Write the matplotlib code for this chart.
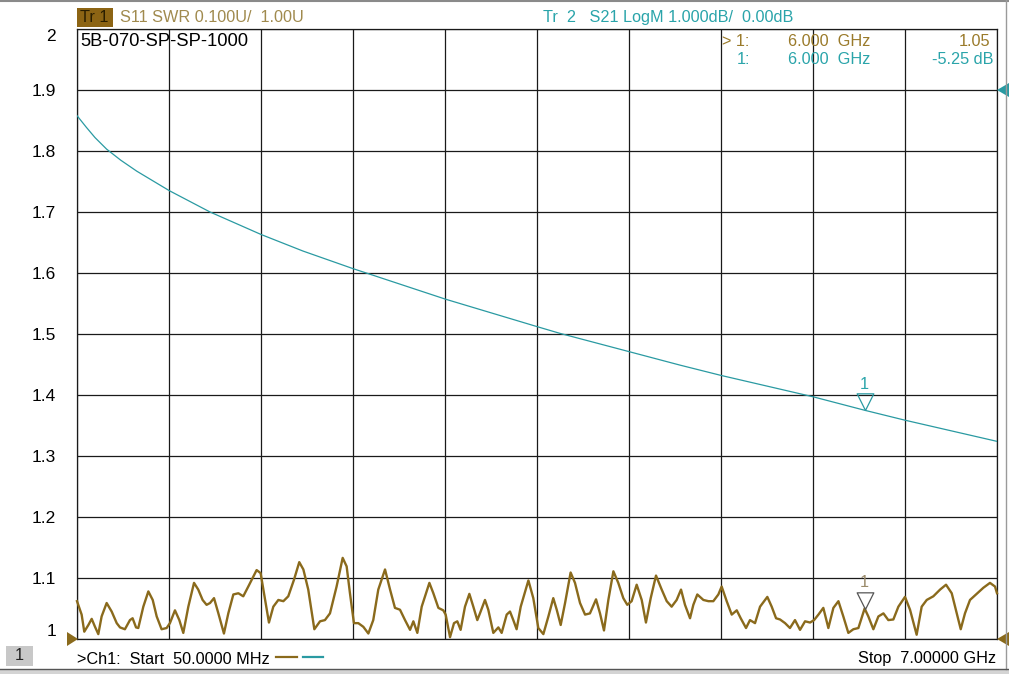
import numpy as np
import matplotlib
matplotlib.use("Agg")
import matplotlib.pyplot as plt
from matplotlib.path import Path
from matplotlib.lines import Line2D
from matplotlib.patches import Rectangle

plt.rcParams['font.family'] = ['Liberation Sans', 'DejaVu Sans']

# S21 trace (teal), LogM in dB
s21_freq = [0.05, 0.12, 0.186, 0.274, 0.38, 0.501, 0.747, 1.055, 1.442, 1.757, 2.137, 2.263,
            2.835, 3.527, 3.699, 4.222, 4.605, 4.917, 5.612, 6.0, 6.299, 7.0]
s21_db = [-0.42, -0.61, -0.78, -0.97, -1.15, -1.33, -1.65, -2.00, -2.37, -2.64, -2.93, -3.02,
          -3.43, -3.88, -3.99, -4.29, -4.51, -4.68, -5.03, -5.25, -5.41, -5.76]

# S11 trace (brown), SWR
s11_freq = [0.05, 0.085, 0.105, 0.136, 0.161, 0.186, 0.211, 0.236, 0.274, 0.312,
            0.350, 0.375, 0.412, 0.450, 0.470, 0.496, 0.513, 0.551, 0.589, 0.622,
            0.652, 0.689, 0.727, 0.752, 0.790, 0.823, 0.853, 0.891, 0.934, 0.966,
            0.999, 1.029, 1.055, 1.085, 1.118, 1.160, 1.193, 1.231, 1.269, 1.306,
            1.344, 1.407, 1.437, 1.458, 1.500, 1.533, 1.571, 1.609, 1.646, 1.689,
            1.729, 1.760, 1.797, 1.843, 1.886, 1.923, 1.961, 2.011, 2.057, 2.087,
            2.112, 2.142, 2.175, 2.213, 2.251, 2.288, 2.326, 2.377,
            2.415, 2.452, 2.490, 2.528, 2.566, 2.591, 2.621, 2.654, 2.712, 2.742,
            2.780, 2.817, 2.835, 2.868, 2.898, 2.923, 2.948, 2.981, 3.014, 3.044,
            3.074, 3.094, 3.132, 3.157, 3.195, 3.233, 3.258, 3.296, 3.321, 3.346,
            3.371, 3.402, 3.460, 3.497, 3.535, 3.573, 3.611, 3.648, 3.674, 3.704,
            3.737, 3.779, 3.812, 3.850, 3.888, 3.925, 3.971, 4.001, 4.031, 4.064,
            4.102, 4.139, 4.177, 4.207, 4.240, 4.278, 4.316, 4.348, 4.384, 4.424,
            4.467, 4.505, 4.542, 4.580, 4.613, 4.643, 4.681, 4.706, 4.736,
            4.782, 4.820, 4.857, 4.895, 4.920, 4.958, 4.996, 5.034, 5.064, 5.104,
            5.134, 5.172, 5.210, 5.265, 5.298, 5.331, 5.361, 5.399, 5.436, 5.474,
            5.512, 5.550, 5.588, 5.618, 5.651, 5.688, 5.726, 5.764, 5.802, 5.839,
            5.877, 5.915, 5.953, 6.000, 6.028, 6.066, 6.104, 6.142, 6.179, 6.217,
            6.255, 6.305, 6.343, 6.393, 6.431, 6.469, 6.519, 6.570, 6.615, 6.658,
            6.696, 6.726, 6.758, 6.796, 6.847, 6.897, 6.947, 6.985, 7.0]
s11_swr = [1.062, 1.040, 1.012, 1.023, 1.033, 1.020, 1.008, 1.037, 1.059, 1.045,
           1.026, 1.019, 1.016, 1.031, 1.034, 1.019, 1.018, 1.053, 1.078, 1.064,
           1.037, 1.016, 1.018, 1.026, 1.047, 1.031, 1.010, 1.053, 1.092, 1.081,
           1.064, 1.056, 1.059, 1.067, 1.042, 1.009, 1.042, 1.073, 1.075, 1.070,
           1.086, 1.113, 1.108, 1.081, 1.027, 1.053, 1.064, 1.062, 1.070, 1.097,
           1.126, 1.114, 1.081, 1.016, 1.029, 1.031, 1.042, 1.086, 1.133, 1.119,
           1.075, 1.026, 1.026, 1.020, 1.009, 1.031, 1.081, 1.114,
           1.081, 1.051, 1.048, 1.031, 1.015, 1.029, 1.010, 1.053, 1.092, 1.075,
           1.051, 1.047, 1.040, 1.003, 1.026, 1.029, 1.015, 1.053, 1.074, 1.053,
           1.031, 1.042, 1.064, 1.048, 1.010, 1.019, 1.010, 1.040, 1.045, 1.031,
           1.016, 1.053, 1.096, 1.067, 1.018, 1.008, 1.037, 1.067, 1.048, 1.023,
           1.059, 1.109, 1.092, 1.059, 1.040, 1.042, 1.065, 1.042, 1.014, 1.064,
           1.111, 1.092, 1.067, 1.056, 1.062, 1.089, 1.064, 1.027, 1.067, 1.104,
           1.081, 1.062, 1.053, 1.064, 1.081, 1.056, 1.034, 1.056, 1.073,
           1.064, 1.062, 1.062, 1.073, 1.086, 1.062, 1.040, 1.047, 1.034, 1.018,
           1.031, 1.026, 1.053, 1.069, 1.053, 1.034, 1.032, 1.026, 1.018, 1.031,
           1.015, 1.029, 1.027, 1.031, 1.040, 1.051, 1.018, 1.051, 1.062, 1.037,
           1.010, 1.016, 1.018, 1.050, 1.037, 1.016, 1.037, 1.042, 1.031, 1.032,
           1.053, 1.069, 1.048, 1.007, 1.053, 1.064, 1.070, 1.081, 1.089, 1.075,
           1.042, 1.016, 1.042, 1.064, 1.074, 1.084, 1.092, 1.086, 1.075]

swr_ticks = [1.0, 1.1, 1.2, 1.3, 1.4, 1.5, 1.6, 1.7, 1.8, 1.9, 2.0]
swr_labels = ['1', '1.1', '1.2', '1.3', '1.4', '1.5', '1.6', '1.7', '1.8', '1.9', '2']
f_start, f_stop = 0.05, 7.0
marker_f = 6.0
marker_swr = 1.05
marker_db = -5.25

brown = '#8a6a1c'
brown_txt = '#a08a4e'
brown_mk = '#9a7a2a'
teal = '#2a9aa2'
teal_txt = '#2aa4aa'
fs = 11.7

W, H = 1009, 674
fig = plt.figure(figsize=(W / 100, H / 100), dpi=100)
fig.patch.set_facecolor('white')

def fx(x):
    return x / W

def fy(y):
    return 1 - y / H

ax = fig.add_axes([fx(77), fy(639), fx(997) - fx(77), fy(29) - fy(639)])
ax.set_xlim(f_start, f_stop)
ax.set_ylim(1.0, 2.0)
ax.set_xticks(np.linspace(f_start, f_stop, 11))
ax.set_xticklabels([])
ax.set_yticks(swr_ticks)
ax.set_yticklabels(swr_labels, fontsize=12.5)
ax.tick_params(length=0, pad=15)
ax.grid(True, color='#1a1a1a', lw=0.9)
for s in ax.spines.values():
    s.set_color('#1a1a1a')
    s.set_linewidth(0.9)
labs = ax.get_yticklabels()
labs[0].set_va('bottom')
labs[-1].set_va('top')

ax2 = ax.twinx()
ax2.set_ylim(-9, 1)
ax2.set_yticks([])
for s in ax2.spines.values():
    s.set_visible(False)

ax.plot(s11_freq, s11_swr, color=brown, lw=1.7, zorder=4, clip_on=False,
        solid_joinstyle='round')
ax2.plot(s21_freq, s21_db, color=teal, lw=0.9, zorder=4)

# marker triangles (tip at the data point)
tri = Path([(-0.6, 1.2), (0.6, 1.2), (0.0, 0.0), (-0.6, 1.2)],
           [Path.MOVETO, Path.LINETO, Path.LINETO, Path.CLOSEPOLY])
ax2.plot([marker_f], [marker_db], marker=tri, ms=24, mfc='none', mec=teal, mew=0.9, zorder=5)
ax2.annotate('1', (marker_f, marker_db), xytext=(0, 13), textcoords='offset points',
             ha='center', va='bottom', color=teal_txt, fontsize=fs)
ax.plot([marker_f], [marker_swr], marker=tri, ms=24, mfc='none', mec='#555555', mew=0.9, zorder=5)
ax.annotate('1', (marker_f, marker_swr), xytext=(0, 13), textcoords='offset points',
            ha='center', va='bottom', color='#9a8a6a', fontsize=fs)

# reference position arrows
fig.patches.append(plt.Polygon([(fx(67), fy(632)), (fx(67), fy(646)), (fx(78), fy(639))],
                               closed=True, fc=brown, ec='none', transform=fig.transFigure))
fig.patches.append(plt.Polygon([(fx(1009), fy(632)), (fx(1009), fy(646)), (fx(997), fy(639))],
                               closed=True, fc=brown, ec='none', transform=fig.transFigure))
fig.patches.append(plt.Polygon([(fx(1009), fy(83)), (fx(1009), fy(97)), (fx(997), fy(90))],
                               closed=True, fc=teal, ec='none', transform=fig.transFigure))

# header
fig.patches.append(Rectangle((fx(77), fy(27)), fx(36), fy(8) - fy(27), fc='#8c6414', ec='none',
                             transform=fig.transFigure))
fig.text(fx(80), fy(17.5), 'Tr 1', fontsize=fs, color='#2a1e00', va='center', ha='left')
fig.text(fx(120), fy(17.5), 'S11 SWR 0.100U/  1.00U', fontsize=fs, color=brown_txt, va='center')
fig.text(fx(543), fy(17.5), 'Tr  2   S21 LogM 1.000dB/  0.00dB', fontsize=fs, color=teal_txt, va='center')

fig.text(fx(80), fy(41), '5B-070-SP-SP-1000', fontsize=13.2, color='black', va='center')

# marker readout
fig.text(fx(722), fy(41), '> 1:', fontsize=fs, color=brown_mk, va='center')
fig.text(fx(788), fy(41), '6.000  GHz', fontsize=fs, color=brown_mk, va='center')
fig.text(fx(990), fy(41), '1.05', fontsize=fs, color=brown_mk, va='center', ha='right')
fig.text(fx(737), fy(60), '1:', fontsize=fs, color=teal_txt, va='center')
fig.text(fx(788), fy(60), '6.000  GHz', fontsize=fs, color=teal_txt, va='center')
fig.text(fx(993), fy(60), '-5.25 dB', fontsize=fs, color=teal_txt, va='center', ha='right')

# footer
fig.patches.append(Rectangle((fx(6), fy(666)), fx(27), fy(646) - fy(666), fc='#c8c8c8', ec='none',
                             transform=fig.transFigure))
fig.text(fx(19.5), fy(656), '1', fontsize=fs, color='#222222', va='center', ha='center')
fig.text(fx(77), fy(659), '>Ch1:  Start  50.0000 MHz', fontsize=fs, color='black', va='center')
fig.lines.append(Line2D([fx(276), fx(297)], [fy(657), fy(657)], color=brown, lw=1.6,
                        transform=fig.transFigure))
fig.lines.append(Line2D([fx(303), fx(323)], [fy(657), fy(657)], color=teal, lw=1.6,
                        transform=fig.transFigure))
fig.text(fx(996), fy(659), 'Stop  7.00000 GHz', fontsize=fs, color='black', va='center', ha='right')

# window frame
fig.lines.append(Line2D([0, 1], [fy(1), fy(1)], color='#8a8a8a', lw=1.5, transform=fig.transFigure))
fig.lines.append(Line2D([fx(1005.5), fx(1005.5)], [fy(0), fy(669)], color='#9a9a9a', lw=1.0,
                        transform=fig.transFigure))
fig.lines.append(Line2D([0, 1], [fy(669), fy(669)], color='#555555', lw=1.0, transform=fig.transFigure))
fig.patches.append(Rectangle((0, 0), 1, fy(669.5), fc='#d4d4d4', ec='none', transform=fig.transFigure))

fig.savefig('out.png', dpi=100, facecolor='white')
